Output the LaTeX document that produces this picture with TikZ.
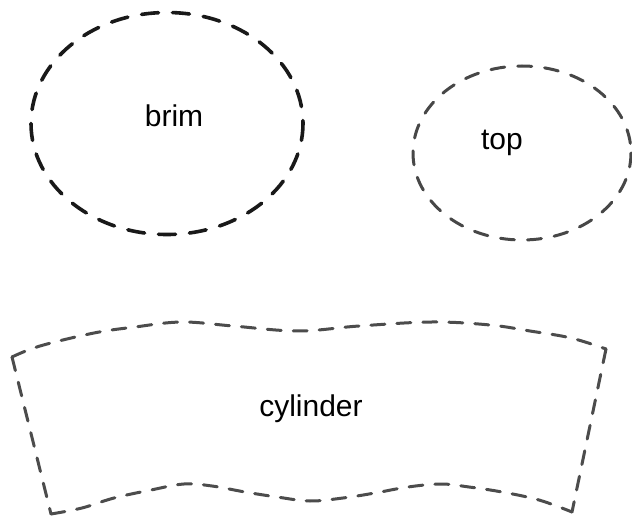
\documentclass[tikz,border=0pt]{standalone}
\usepackage{fontspec}
\setmainfont{Liberation Sans}
\begin{document}
\begin{tikzpicture}[x=1pt,y=-1pt,
  brimline/.style={draw=black!90,line width=3.6pt,line cap=round,dash pattern=on 17pt off 14pt},
  topline/.style={draw=black!72,line width=3pt,line cap=round,dash pattern=on 14pt off 13pt},
  cylline/.style={draw=black!70,line width=3pt,line cap=round,dash pattern=on 14pt off 12pt},
  lbl/.style={font=\fontsize{30}{33}\selectfont,inner sep=0pt,anchor=base}]
\useasboundingbox (0,0) rectangle (632,518);
\draw[brimline] (167,123.5) ellipse [x radius=136,y radius=111];
\draw[topline] (522,153) ellipse [x radius=109,y radius=87];
\coordinate (tl) at (12,357);
\coordinate (tr) at (606,349);
\coordinate (br) at (572,512);
\coordinate (bl) at (51,514);
\draw[cylline] plot[smooth,tension=0.6] coordinates {(tl) (40,346) (94,333) (135,327) (182,322) (233,326) (298,331) (359,326) (432,322) (490,325) (530,331) (571,338) (tr)};
\draw[cylline] (tr) -- (br);
\draw[cylline] plot[smooth,tension=0.6] coordinates {(bl) (82,508) (114,498) (151,490) (184,484) (212,486) (245,492) (277,497) (310,501) (343,498) (375,493) (408,487) (441,484) (469,487) (502,492) (539,500) (br)};
\draw[cylline] (tl) -- (bl);
\node[lbl] (brim) at (174,127) {brim};
\node[lbl] (top) at (502,150) {top};
\node[lbl] (cyl) at (311,417) {cylinder};
\end{tikzpicture}
\end{document}
